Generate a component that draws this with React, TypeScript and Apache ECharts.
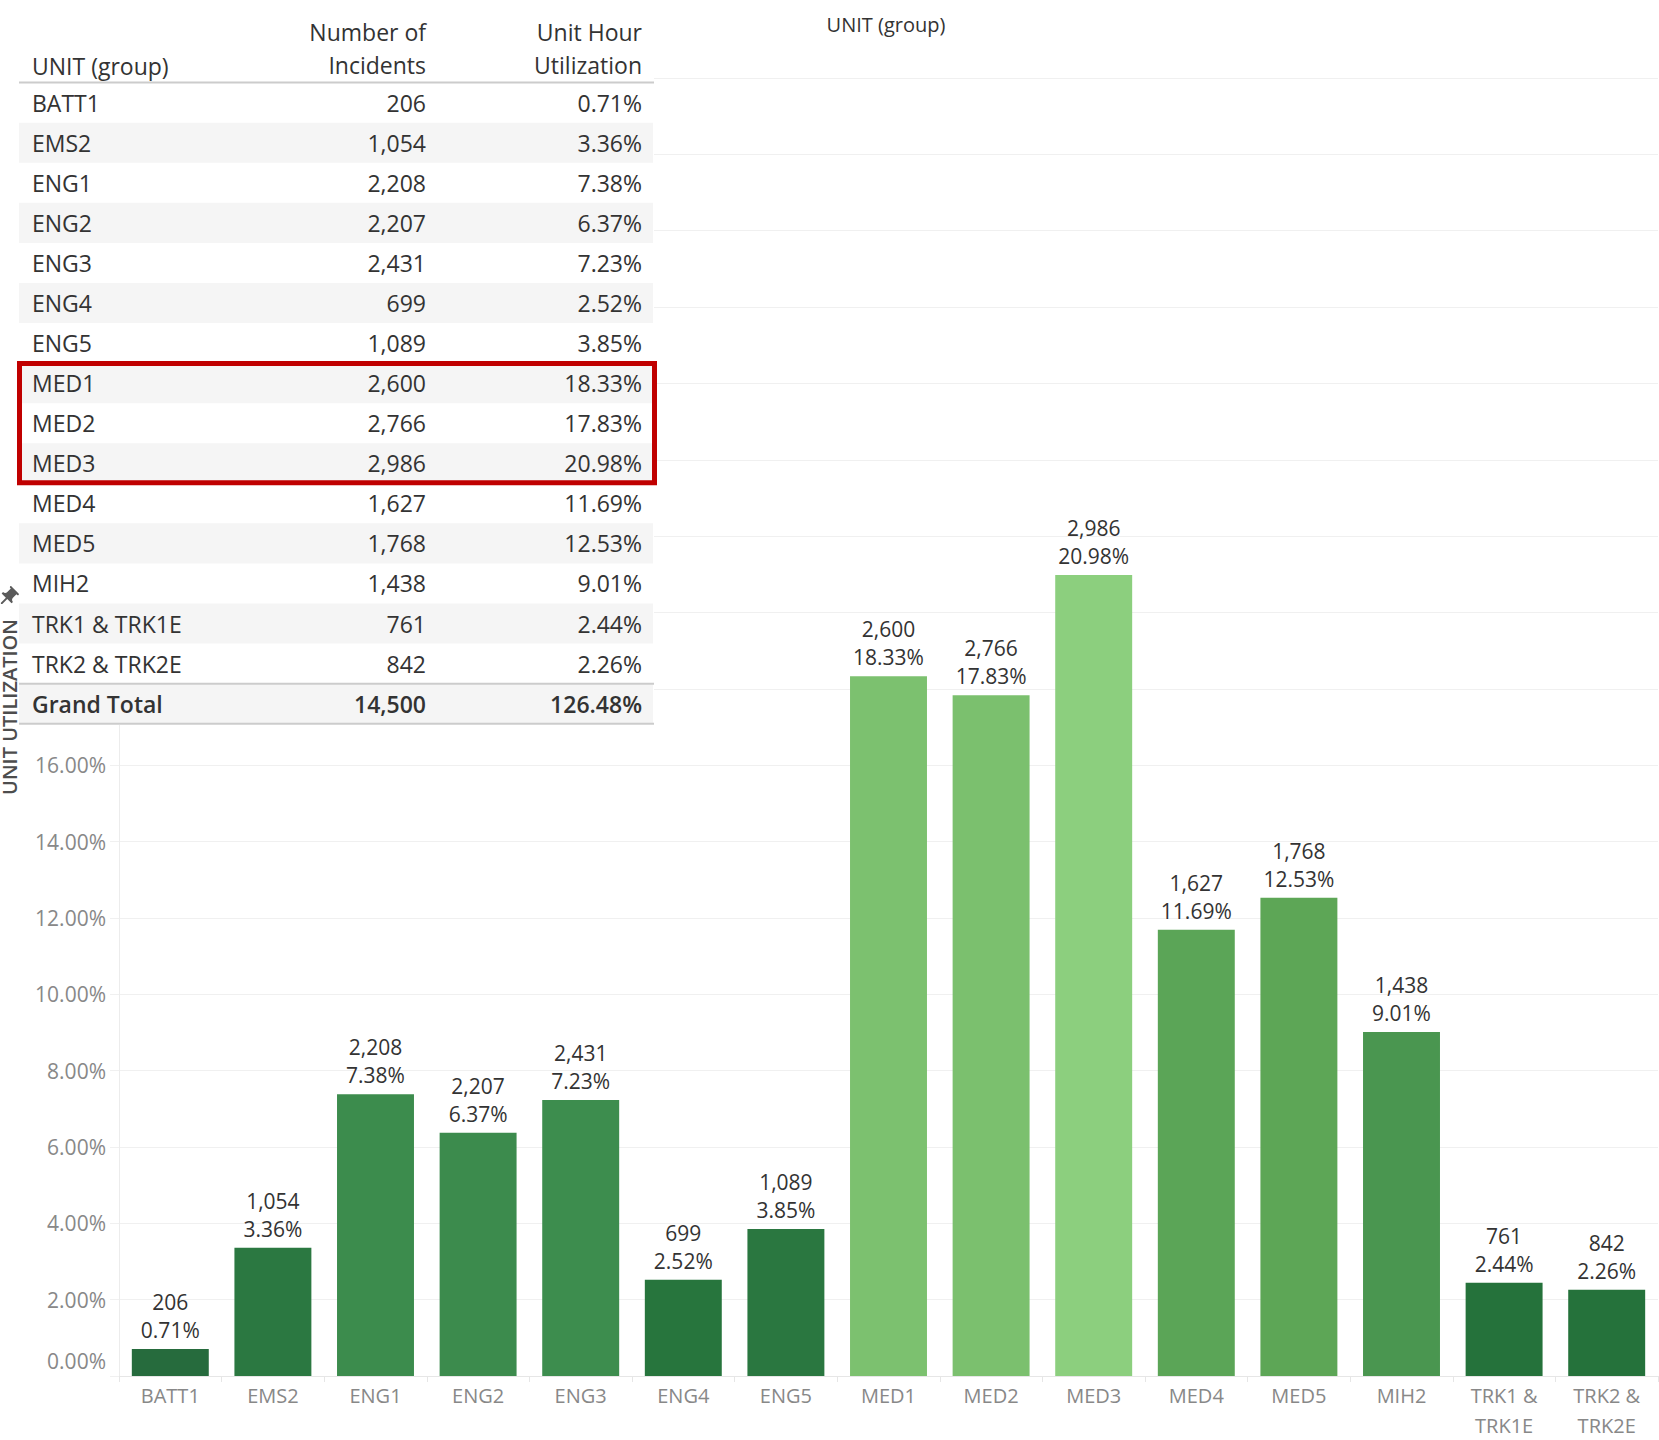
import React, { useEffect, useRef } from "react";
import * as echarts from "echarts";

const units = [
  "BATT1", "EMS2", "ENG1", "ENG2", "ENG3", "ENG4", "ENG5",
  "MED1", "MED2", "MED3", "MED4", "MED5", "MIH2", "TRK1 & TRK1E", "TRK2 & TRK2E",
];
const incidents = [206, 1054, 2208, 2207, 2431, 699, 1089, 2600, 2766, 2986, 1627, 1768, 1438, 761, 842];
const utilization = [0.71, 3.36, 7.38, 6.37, 7.23, 2.52, 3.85, 18.33, 17.83, 20.98, 11.69, 12.53, 9.01, 2.44, 2.26];
const grandTotalIncidents = 14500;
const grandTotalUtilization = 126.48;
const highlightedUnits = ["MED1", "MED2", "MED3"];
const barColors = [
  "#266b3d", "#2b7841", "#3c8c4d", "#3c8b4d", "#3d8d4e", "#27753d", "#2a7740",
  "#7cc16f", "#7bc06e", "#8ccf7e", "#5ba557", "#5da656", "#4a9650", "#25723b", "#25723b",
];
const yMin = 0;
const yMax = 34;
const yInterval = 2;
const yLabelMaxVisible = 16;

const FONT = '"Open Sans", "Noto Sans", "DejaVu Sans", sans-serif';
const fmtInt = (n: number) => n.toLocaleString("en-US");
const fmtPct = (v: number) => v.toFixed(2) + "%";

function txt(text: string, x: number, y: number, align: string, size: number, color: string, weight: string = "normal", extra: any = {}) {
  return {
    type: "text",
    x,
    y,
    z: 101,
    ...extra,
    style: {
      text,
      fill: color,
      fontSize: size,
      fontFamily: FONT,
      fontWeight: weight,
      align,
      verticalAlign: "middle",
      textAlign: align,
      textVerticalAlign: "middle",
    },
  };
}

function buildTable() {
  const els: any[] = [];
  const left = 17;
  const right = 654;
  const rowTop = 82.6;
  const rowH = 40.07;
  const c1 = 32;
  const c2 = 426;
  const c3 = 642;
  const fs = 23;
  const color = "#333333";
  els.push({ type: "rect", z: 100, shape: { x: 18, y: 0, width: right - 18, height: 725 }, style: { fill: "#ffffff" } });
  const nRows = units.length + 1;
  for (let i = 0; i < nRows; i++) {
    if (i % 2 === 1) {
      els.push({
        type: "rect", z: 100,
        shape: { x: left + 2, y: rowTop + i * rowH, width: right - left - 3, height: rowH },
        style: { fill: "#f5f5f5" },
      });
    }
  }
  els.push(txt("UNIT (group)", c1, 66, "left", fs, color));
  els.push(txt("Number of", c2, 32, "right", fs, color));
  els.push(txt("Incidents", c2, 65, "right", fs, color));
  els.push(txt("Unit Hour", c3, 32, "right", fs, color));
  els.push(txt("Utilization", c3, 65, "right", fs, color));
  els.push({ type: "line", z: 102, shape: { x1: left + 2, y1: 82.5, x2: right, y2: 82.5 }, style: { stroke: "#cccccc", lineWidth: 2 } });
  units.forEach((u, i) => {
    const y = rowTop + rowH / 2 + i * rowH;
    els.push(txt(u, c1, y, "left", fs, color));
    els.push(txt(fmtInt(incidents[i]), c2, y, "right", fs, color));
    els.push(txt(fmtPct(utilization[i]), c3, y, "right", fs, color));
  });
  const gy = rowTop + rowH / 2 + units.length * rowH;
  els.push(txt("Grand Total", c1, gy, "left", fs, color, "600"));
  els.push(txt(fmtInt(grandTotalIncidents), c2, gy, "right", fs, color, "600"));
  els.push(txt(fmtPct(grandTotalUtilization), c3, gy, "right", fs, color, "600"));
  els.push({ type: "line", z: 102, shape: { x1: left + 2, y1: rowTop + units.length * rowH, x2: right, y2: rowTop + units.length * rowH }, style: { stroke: "#cccccc", lineWidth: 2 } });
  els.push({ type: "line", z: 102, shape: { x1: left + 2, y1: rowTop + nRows * rowH, x2: right, y2: rowTop + nRows * rowH }, style: { stroke: "#cccccc", lineWidth: 2 } });
  const first = units.indexOf(highlightedUnits[0]);
  const last = units.indexOf(highlightedUnits[highlightedUnits.length - 1]);
  els.push({
    type: "rect", z: 103,
    shape: { x: 19.5, y: rowTop + first * rowH + 0.5, width: 635, height: (last - first + 1) * rowH - 1 },
    style: { fill: "none", stroke: "#c00000", lineWidth: 5 },
  });
  return els;
}

export default function App() {
  const ref = useRef<HTMLDivElement>(null);
  useEffect(() => {
    document.body.style.margin = "0";
    if (!ref.current) return;
    try {
      echarts.graphic.registerShape(
        "pin",
        echarts.graphic.extendPath(
          "M16 9V4h1c.55 0 1-.45 1-1s-.45-1-1-1H7c-.55 0-1 .45-1 1s.45 1 1 1h1v5c0 1.66-1.34 3-3 3v2h5.97v7l1 1 1-1v-7H19v-2c-1.66 0-3-1.34-3-3z",
          {}
        )
      );
    } catch (e) {}
    const chart = echarts.init(ref.current, null, { renderer: "svg" });
    const graphics: any[] = [
      ...buildTable(),
      txt("UNIT (group)", 886, 24, "center", 20, "#333333"),
      txt("UNIT UTILIZATION", 9.5, 707, "center", 20, "#4d4d4d", "600", { rotation: Math.PI / 2 }),
      {
        type: "pin", z: 101, x: -4, y: 585, originX: 12, originY: 12, scaleX: 1, scaleY: 1,
        rotation: -Math.PI / 4,
        style: { fill: "#5a5a5a" },
      },
    ];
    const option: any = {
      animation: false,
      textStyle: { fontFamily: FONT },
      grid: { left: 119, right: 1, top: 78, bottom: 61, containLabel: false },
      xAxis: {
        type: "category",
        data: units,
        axisLine: { show: true, lineStyle: { color: "#e6e6e6", width: 1 } },
        axisTick: { show: true, length: 6, lineStyle: { color: "#e6e6e6" } },
        splitLine: { show: false },
        axisLabel: {
          interval: 0,
          color: "#888888",
          fontSize: 20,
          lineHeight: 30,
          margin: 4,
          fontFamily: FONT,
          formatter: (s: string) => s.replace(" & ", " &\n"),
        },
      },
      yAxis: {
        type: "value",
        min: yMin,
        max: yMax,
        interval: yInterval,
        axisLine: { show: true, lineStyle: { color: "#ececec", width: 1 } },
        axisTick: { show: true, length: 9, lineStyle: { color: "#f0f0f0" } },
        splitLine: { show: true, lineStyle: { color: "#f0f0f0", width: 1 } },
        axisLabel: {
          color: "#888888",
          fontSize: 21,
          lineHeight: 30,
          margin: 13,
          fontFamily: FONT,
          formatter: (v: number) =>
            v > yLabelMaxVisible ? "" : v === yMin ? fmtPct(v) + "\n " : fmtPct(v),
        },
      },
      series: [
        {
          type: "bar",
          barWidth: "75%",
          data: utilization.map((v, i) => ({ value: v, itemStyle: { color: barColors[i] } })),
          label: {
            show: true,
            position: "top",
            distance: 5,
            color: "#333333",
            fontSize: 21,
            lineHeight: 28,
            fontFamily: FONT,
            formatter: (p: any) => fmtInt(incidents[p.dataIndex]) + "\n" + fmtPct(utilization[p.dataIndex]),
          },
        },
      ],
      graphic: { elements: graphics },
    };
    chart.setOption(option);
    return () => chart.dispose();
  }, []);
  return <div ref={ref} style={{ position: "absolute", left: 0, top: 0, width: 1659, height: 1440 }} />;
}
